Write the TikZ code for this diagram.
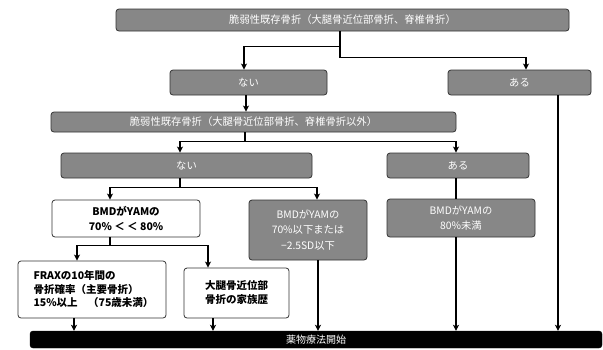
\documentclass[tikz,border=0pt]{standalone}
\usepackage{fontspec}
\newfontfamily\jp{Noto Sans CJK JP}
\usetikzlibrary{arrows.meta}
\definecolor{boxgray}{HTML}{878787}
\definecolor{edgegray}{HTML}{333333}
\begin{document}
\begin{tikzpicture}[x=1pt,y=-1pt,
  gbox/.style={draw=edgegray,line width=0.8pt,fill=boxgray,rounded corners=3pt,text=white,
    font=\jp\fontsize{10.3}{15.5}\selectfont,inner sep=0pt,align=center},
  wbox/.style={draw=edgegray,line width=0.8pt,fill=white,rounded corners=3pt,text=black,
    font=\jp\bfseries\fontsize{10.5}{14.5}\selectfont,inner sep=0pt,align=center},
  conn/.style={line width=1.3pt,-{Stealth[length=6pt,width=6pt,inset=1.5pt]}},
  plain/.style={line width=1.3pt}]
\useasboundingbox (0,0) rectangle (603,349);
\fill[white] (0,0) rectangle (603,349);
% nodes
\node[gbox,minimum width=453pt,minimum height=22pt] (top) at (342.5,20) {脆弱性既存骨折（大腿骨近位部骨折、脊椎骨折）};
\node[gbox,minimum width=157pt,minimum height=25pt] (n1) at (248.5,82.5) {ない};
\node[gbox,minimum width=143pt,minimum height=25pt] (a1) at (519.5,82.5) {ある};
\node[gbox,minimum width=405pt,minimum height=20pt] (mid) at (253.5,122) {脆弱性既存骨折（大腿骨近位部骨折、脊椎骨折以外）};
\node[gbox,minimum width=251pt,minimum height=25pt] (n2) at (186.5,165.5) {ない};
\node[gbox,minimum width=142pt,minimum height=25pt] (a2) at (458,165.5) {ある};
\node[wbox,minimum width=148pt,minimum height=37pt] (bmdw) at (126,218.5) {BMDがYAMの\\70\% ＜ ＜ 80\%};
\node[gbox,minimum width=118pt,minimum height=60pt] (bmdg) at (308,230) {BMDがYAMの\\70\%以下または\\−2.5SD以下};
\node[gbox,minimum width=148pt,minimum height=38pt] (bmdr) at (461,218) {BMDがYAMの\\80\%未満};
\node[wbox,minimum width=148pt,minimum height=57pt,align=left,font=\jp\bfseries\fontsize{10.5}{13.5}\selectfont] (frax) at (92,289.5) {\hspace*{3pt}FRAXの10年間の\\\hspace*{3pt}骨折確率（主要骨折）\\\hspace*{3pt}15\%以上\quad（75歳未満）};
\node[wbox,minimum width=105pt,minimum height=50pt,font=\jp\bfseries\fontsize{10.5}{14}\selectfont] (daitai) at (236.5,293) {大腿骨近位部\\骨折の家族歴};
\node[draw=black,fill=black,rounded corners=3pt,text=white,inner sep=0pt,
  minimum width=572pt,minimum height=17pt,font=\jp\fontsize{10}{12}\selectfont] (bar) at (316,339.5) {薬物療法開始};
% connectors
\coordinate (t1) at ([xshift=-2.5pt]top.south);
\draw[conn] (t1) -- ++(0,15) -| ([xshift=-4.5pt]n1.north);
\draw[conn] (t1) -- ++(0,26) -| ([xshift=6.5pt]a1.north);
\draw[conn] ([xshift=38.5pt]a1.south) -- ([xshift=38.5pt]a1.south |- bar.north);
\draw[conn] ([xshift=-2.5pt]n1.south) -- ([xshift=-2.5pt]n1.south |- mid.north);
\coordinate (m1) at ([xshift=-8.5pt]mid.south);
\draw[conn] (m1) -- ++(0,9) -| ([xshift=-6.5pt]n2.north);
\draw[conn] (m1) -- ++(0,9) -| ([xshift=-2pt]a2.north);
\coordinate (n2s) at ([xshift=-6.5pt]n2.south);
\draw[conn] (n2s) -- ++(0,9) -| ([xshift=-16pt]bmdw.north);
\draw[conn] (n2s) -- ++(0,9) -| ([xshift=9pt]bmdg.north);
\draw[plain] ([xshift=-2pt]a2.south) -- ([xshift=-2pt]a2.south |- bmdr.north);
\draw[conn] ([xshift=-5pt]bmdr.south) -- ([xshift=-5pt]bmdr.south |- bar.north);
\draw[conn] ([xshift=10pt]bmdg.south) -- ([xshift=10pt]bmdg.south |- bar.north);
\coordinate (bw) at ([xshift=-16pt]bmdw.south);
\draw[conn] (bw) -- ++(0,8) -| ([xshift=-15pt]frax.north);
\draw[conn] (bw) -- ++(0,8) -| ([xshift=-28.5pt]daitai.north);
\draw[conn] ([xshift=-18pt]frax.south) -- ([xshift=-18pt]frax.south |- bar.north);
\draw[conn] ([xshift=-23.5pt]daitai.south) -- ([xshift=-23.5pt]daitai.south |- bar.north);
\end{tikzpicture}
\end{document}
